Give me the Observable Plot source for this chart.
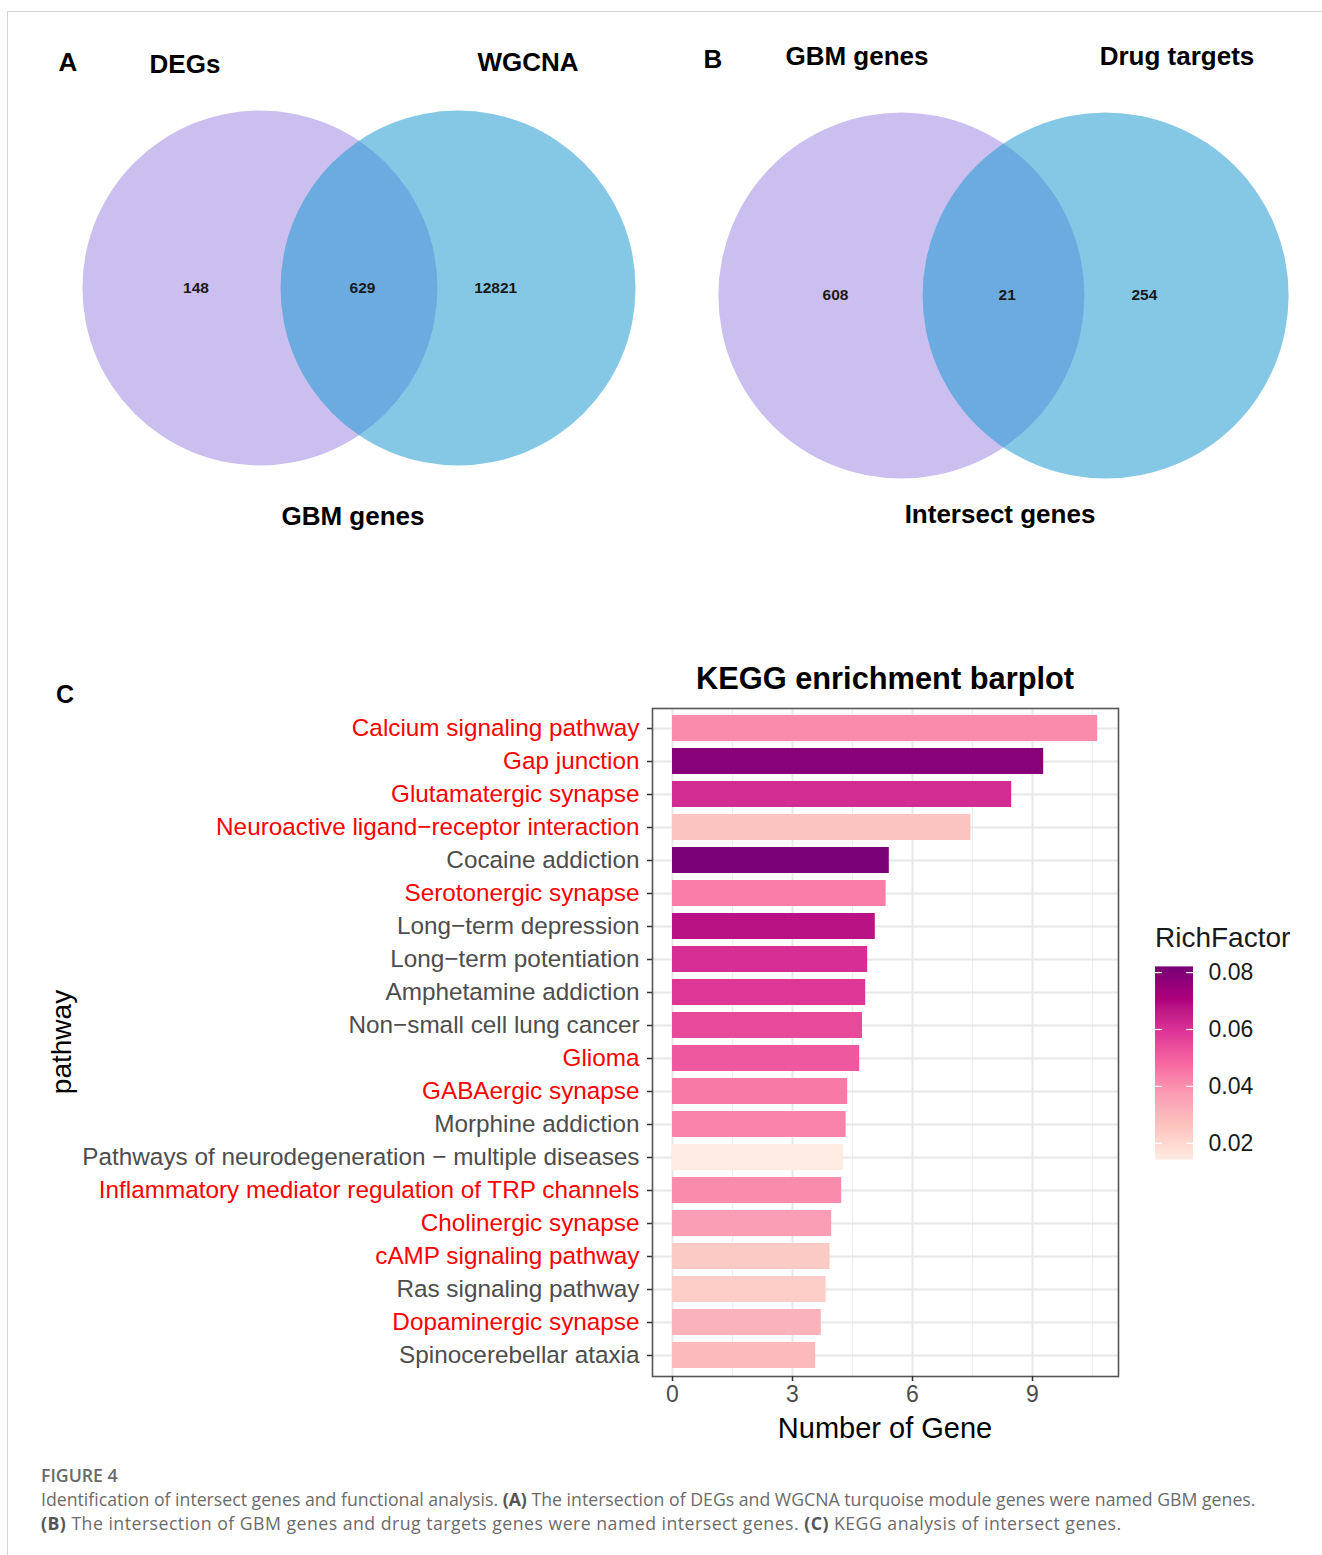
<!DOCTYPE html>
<html>
<head>
<meta charset="utf-8">
<script src="https://cdn.jsdelivr.net/npm/d3@7"></script>
<script src="https://cdn.jsdelivr.net/npm/@observablehq/plot@0.6"></script>
<style>
  body { margin: 0; background: #fff; font-family: "Liberation Sans", Arial, sans-serif; }
  #page { position: relative; width: 1322px; height: 1555px; overflow: hidden; background: #fff; }
  .abs { position: absolute; }
  .edge-top { left: 7px; top: 11px; width: 1315px; height: 0; border-top: 1.5px solid #d4d4d4; }
  .edge-left { left: 7px; top: 11px; width: 0; height: 1544px; border-left: 1.5px solid #d4d4d4; }
  .vlabel { font-weight: bold; font-size: 26px; line-height: 1; color: #000; transform: translate(-50%, -50%); white-space: nowrap; }
  .ctext { line-height: 1; color: #000; white-space: nowrap; }
  .caption { font-family: "Open Sans", "Noto Sans", sans-serif; color: #6b6b6b; font-size: 17.7px; line-height: 24px; white-space: nowrap; }
  .caption .fig { font-weight: 600; color: #6a6a6a; }
  .caption .wide { letter-spacing: 0.48px; }
  .caption b { color: #555; font-weight: 700; }
</style>
</head>
<body>
<div id="page">
  <div class="abs edge-top"></div>
  <div class="abs edge-left"></div>
</div>
<script>
// ---- Panel A: DEGs vs WGCNA ----
const vennASets = ["DEGs", "WGCNA"];
const vennACounts = [148, 629, 12821];   // left only, shared, right only
const vennAResult = "GBM genes";

// ---- Panel B: GBM genes vs drug targets ----
const vennBSets = ["GBM genes", "Drug targets"];
const vennBCounts = [608, 21, 254];
const vennBResult = "Intersect genes";

// ---- Panel C: KEGG enrichment ----
const pathways = [
  "Calcium signaling pathway",
  "Gap junction",
  "Glutamatergic synapse",
  "Neuroactive ligand\u2212receptor interaction",
  "Cocaine addiction",
  "Serotonergic synapse",
  "Long\u2212term depression",
  "Long\u2212term potentiation",
  "Amphetamine addiction",
  "Non\u2212small cell lung cancer",
  "Glioma",
  "GABAergic synapse",
  "Morphine addiction",
  "Pathways of neurodegeneration \u2212 multiple diseases",
  "Inflammatory mediator regulation of TRP channels",
  "Cholinergic synapse",
  "cAMP signaling pathway",
  "Ras signaling pathway",
  "Dopaminergic synapse",
  "Spinocerebellar ataxia"
];
const geneCounts = [10.63, 9.28, 8.48, 7.46, 5.42, 5.34, 5.07, 4.88, 4.83, 4.75,
                    4.68, 4.38, 4.34, 4.28, 4.23, 3.98, 3.94, 3.84, 3.72, 3.58];
const richFactors = [0.041, 0.079, 0.062, 0.026, 0.0818, 0.044, 0.068, 0.061, 0.059, 0.055,
                     0.052, 0.045, 0.043, 0.0143, 0.041, 0.037, 0.024, 0.023, 0.031, 0.029];
const highlightedPathways = [
  "Calcium signaling pathway", "Gap junction", "Glutamatergic synapse",
  "Neuroactive ligand\u2212receptor interaction", "Serotonergic synapse", "Glioma",
  "GABAergic synapse", "Inflammatory mediator regulation of TRP channels",
  "Cholinergic synapse", "cAMP signaling pathway", "Dopaminergic synapse"
];
const xTicks = [0, 3, 6, 9];
const xMinorTicks = [1.5, 4.5, 7.5, 10.5];
const legendTicks = [0.02, 0.04, 0.06, 0.08];
const richColors = ["#FEEBE2", "#FCC5C0", "#FA9FB5", "#F768A1", "#DD3497", "#AE017E", "#7A0177"];

const page = document.getElementById("page");
const FONT = "'Liberation Sans', Arial, sans-serif";

function place(el, left, top) {
  el.style.position = "absolute";
  el.style.left = left + "px";
  el.style.top = top + "px";
  page.appendChild(el);
  return el;
}
function label(text, x, y, cls) {
  const d = document.createElement("div");
  d.className = cls;
  d.textContent = text;
  return place(d, x, y);
}

// Two-set Venn diagram; positions are in units of the circle radius.
const vennCircleOffset = 0.558;
const vennRegionX = [-0.918, 0.02, 0.77];
function venn(sets, counts, frame) {
  const {w, h, cx, cy, R} = frame;
  const circles = sets.map((s, i) => ({set: s, x: i === 0 ? -vennCircleOffset : vennCircleOffset}));
  const regions = counts.map((n, i) => ({n, x: vennRegionX[i]}));
  return Plot.plot({
    width: w, height: h, margin: 0,
    style: {fontFamily: FONT, background: "transparent"},
    x: {domain: [-cx / R, (w - cx) / R], axis: null},
    y: {domain: [-(h - cy) / R, cy / R], axis: null},
    marks: [
      Plot.dot(circles.slice(0, 1), {x: "x", y: 0, r: R, fill: "#cbbff0"}),
      Plot.dot(circles.slice(1), {x: "x", y: 0, r: R, fill: "rgb(31,155,210)", fillOpacity: 0.55}),
      Plot.text(regions, {x: "x", y: 0, text: d => String(d.n), fontWeight: "bold", fontSize: 15.5, fill: "#1a1a1a"})
    ]
  });
}

place(venn(vennASets, vennACounts, {w: 700, h: 570, cx: 358.5, cy: 287.5, R: 177.5}), 0, 0);
place(venn(vennBSets, vennBCounts, {w: 662, h: 570, cx: 343, cy: 295, R: 183}), 660, 0);

label("A", 68, 62, "vlabel");
label(vennASets[0], 185, 64, "vlabel");
label(vennASets[1], 528, 62, "vlabel");
label(vennAResult, 353, 516, "vlabel");
label("B", 713, 59, "vlabel");
label(vennBSets[0], 857, 56, "vlabel");
label(vennBSets[1], 1177, 56, "vlabel");
label(vennBResult, 1000, 514, "vlabel");

// ---- KEGG bar chart ----
const rows = pathways.map((p, i) => ({pathway: p, count: geneCounts[i], rich: richFactors[i]}));
const richDomain = [d3.min(richFactors), d3.max(richFactors)];
const colorScale = {type: "linear", domain: richDomain, interpolate: d3.piecewise(d3.interpolateLab, richColors)};
const redSet = new Set(highlightedPathways);

const bars = Plot.plot({
  width: 1322, height: 716,
  marginLeft: 652, marginRight: 204, marginTop: 8, marginBottom: 40,
  style: {fontFamily: FONT, background: "transparent", overflow: "visible"},
  x: {domain: [-0.5, 11.15]},
  y: {domain: pathways, paddingInner: 0.2, paddingOuter: 0.2},
  color: colorScale,
  marks: [
    Plot.gridX(xMinorTicks, {stroke: "#efefef", strokeOpacity: 1, strokeWidth: 1.2}),
    Plot.gridX(xTicks, {stroke: "#e8e8e8", strokeOpacity: 1, strokeWidth: 2}),
    Plot.gridY(pathways, {stroke: "#e8e8e8", strokeOpacity: 1, strokeWidth: 2}),
    Plot.barX(rows, {x: "count", y: "pathway", fill: "rich"}),
    Plot.frame({stroke: "#555", strokeWidth: 1.6}),
    Plot.axisY(pathways.filter(p => redSet.has(p)), {tickSize: 5, tickPadding: 8, fontSize: 24.3, fill: "red", stroke: "#333", strokeWidth: 1.5, label: null}),
    Plot.axisY(pathways.filter(p => !redSet.has(p)), {tickSize: 5, tickPadding: 8, fontSize: 24.3, fill: "#4d4d4d", stroke: "#333", strokeWidth: 1.5, label: null}),
    Plot.axisX(xTicks, {tickSize: 5, tickPadding: 4, fontSize: 23, fill: "#4d4d4d", stroke: "#333", strokeWidth: 1.5, label: null})
  ]
});
place(bars, 0, 700);

const title = label("KEGG enrichment barplot", 885, 679, "ctext");
title.style.fontWeight = "bold"; title.style.fontSize = "30.8px";
title.style.transform = "translate(-50%, -50%)";

const xTitle = label("Number of Gene", 885, 1428, "ctext");
xTitle.style.fontSize = "29px"; xTitle.style.transform = "translate(-50%, -50%)";

const yTitle = label("pathway", 62, 1042, "ctext");
yTitle.style.fontSize = "28px";
yTitle.style.transform = "translate(-50%, -50%) rotate(-90deg)";

const cTag = label("C", 65, 694, "vlabel");
cTag.style.fontSize = "25px";

// ---- RichFactor colour bar ----
const stripeCount = 200;
const stripes = d3.range(stripeCount).map(i => {
  const a = richDomain[0] + (richDomain[1] - richDomain[0]) * i / stripeCount;
  const b = richDomain[0] + (richDomain[1] - richDomain[0]) * (i + 1) / stripeCount;
  return {y1: a, y2: b, v: (a + b) / 2};
});
const legend = Plot.plot({
  width: 150, height: 215,
  marginLeft: 5, marginRight: 107, marginTop: 12, marginBottom: 11,
  style: {fontFamily: FONT, background: "transparent", overflow: "visible"},
  x: {domain: [0, 1], axis: null},
  y: {domain: richDomain, axis: null},
  color: colorScale,
  marks: [
    Plot.rect(stripes, {x1: 0, x2: 1, y1: "y1", y2: "y2", fill: "v", insetTop: -0.6, insetBottom: -0.6}),
    Plot.ruleY(legendTicks, {x1: 0, x2: 0.18, stroke: "white", strokeWidth: 1.2}),
    Plot.ruleY(legendTicks, {x1: 0.82, x2: 1, stroke: "white", strokeWidth: 1.2}),
    Plot.axisY(legendTicks, {anchor: "right", tickSize: 0, tickPadding: 15, fontSize: 23, fill: "#1a1a1a", tickFormat: d3.format(".2f"), label: null})
  ]
});
place(legend, 1150, 955);
const legendTitle = label("RichFactor", 1155, 924, "ctext");
legendTitle.style.fontSize = "28px";
legendTitle.style.color = "#1a1a1a";

// ---- Caption ----
const cap = document.createElement("div");
cap.className = "caption";
cap.innerHTML =
  '<div class="fig">FIGURE 4</div>' +
  '<div>Identification of intersect genes and functional analysis. <b>(A)</b> The intersection of DEGs and WGCNA turquoise module genes were named GBM genes.</div>' +
  '<div class="wide"><b>(B)</b> The intersection of GBM genes and drug targets genes were named intersect genes. <b>(C)</b> KEGG analysis of intersect genes.</div>';
place(cap, 41, 1463);
</script>
</body>
</html>
